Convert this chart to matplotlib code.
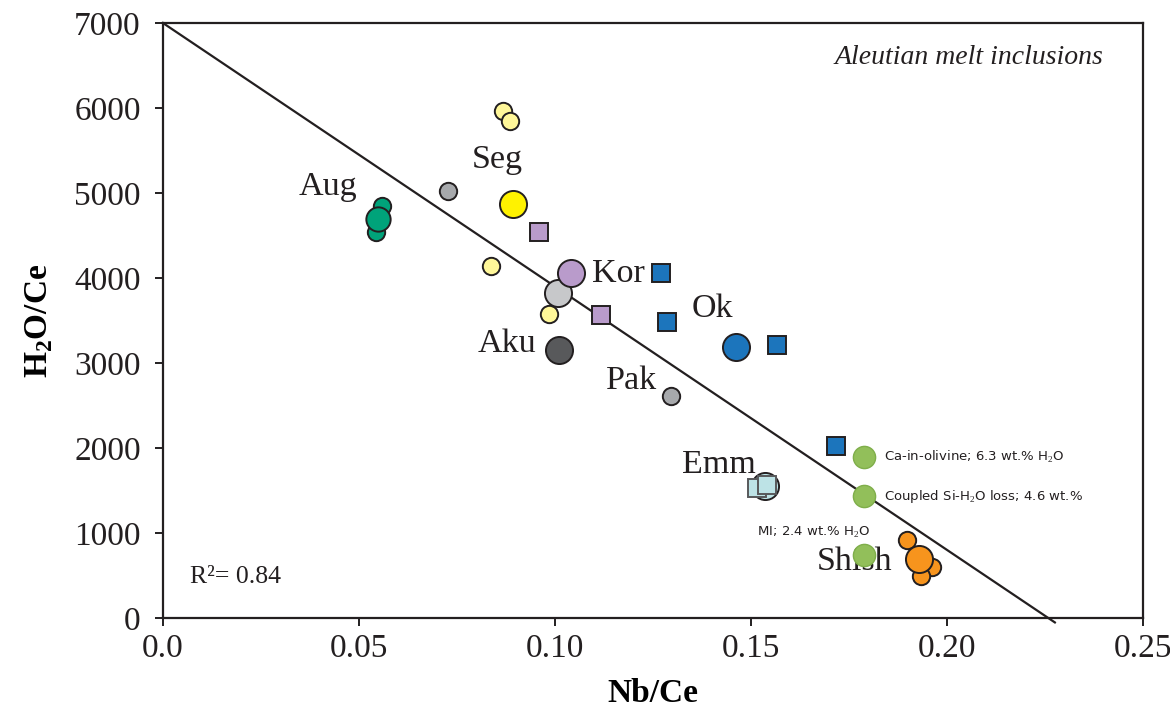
import matplotlib.pyplot as plt
import numpy as np

plt.rcParams['font.family'] = ['Liberation Serif', 'DejaVu Serif']
plt.rcParams['mathtext.fontset'] = 'custom'
plt.rcParams['mathtext.rm'] = 'Liberation Serif'
plt.rcParams['mathtext.bf'] = 'Liberation Serif:bold'

# fit line: H2O/Ce = a + b * Nb/Ce
fit_x = [0.0, 0.2275]
fit_intercept = 7000
fit_slope = -31000

# small circles (x, y) per group
light_yellow_x = [0.0867, 0.0885, 0.0837, 0.0985]
light_yellow_y = [5962, 5845, 4140, 3575]
grey_small_x = [0.0727, 0.1296]
grey_small_y = [5020, 2610]
aug_x = [0.0559, 0.0543]
aug_y = [4845, 4540]
orange_small_x = [0.1898, 0.1962, 0.1934]
orange_small_y = [920, 600, 495]
green_x = [0.1788, 0.1788, 0.1788]
green_y = [1895, 1435, 740]

# large circles (group means)
big_names = ['Aug', 'Seg', 'Kor_grey', 'Kor', 'Aku', 'Ok', 'Emm', 'Shish']
big_x = [0.0548, 0.0893, 0.1008, 0.1041, 0.1010, 0.1462, 0.1536, 0.1929]
big_y = [4690, 4870, 3820, 4060, 3150, 3185, 1550, 695]
big_colors = ['#00A37A', '#FFF200', '#C7C8CA', '#B99BCB', '#58595B',
              '#1C75BC', '#BDE3E6', '#F7941D']

# squares
purple_sq_x = [0.0959, 0.1117]
purple_sq_y = [4540, 3565]
blue_sq_x = [0.1270, 0.1286, 0.1566, 0.1717]
blue_sq_y = [4060, 3480, 3210, 2020]
emm_sq_x = [0.1515, 0.1541]
emm_sq_y = [1535, 1565]

edge = '#231F20'

fig = plt.figure(figsize=(11.7, 7.15), dpi=100)
ax = fig.add_axes([0.1393, 0.1357, 0.8377, 0.8321])

xs = np.array(fit_x)
ax.plot(xs, fit_intercept + fit_slope * xs, color='#231F20', lw=1.6, zorder=2, clip_on=False)

ms_s = 12.5
ms_l = 19.5
ms_q = 13

def circ(x, y, c, ms, z=3):
    ax.plot(x, y, 'o', ms=ms, mfc=c, mec=edge, mew=1.4, ls='none', zorder=z)

circ(light_yellow_x, light_yellow_y, '#FFF799', ms_s)
circ(grey_small_x, grey_small_y, '#A7A9AC', ms_s)
circ(aug_x, aug_y, '#00A37A', ms_s)
for n, x, y, c in zip(big_names, big_x, big_y, big_colors):
    circ([x], [y], c, ms_l if n != 'Aug' else 17.5, z=4)
circ(orange_small_x, orange_small_y, '#F7941D', ms_s, z=3.5)
ax.plot(purple_sq_x, purple_sq_y, 's', ms=ms_q, mfc='#B99BCB', mec=edge, mew=1.4, ls='none', zorder=4)
ax.plot(blue_sq_x, blue_sq_y, 's', ms=ms_q, mfc='#1C75BC', mec=edge, mew=1.4, ls='none', zorder=4)
ax.plot(emm_sq_x, emm_sq_y, 's', ms=ms_q, mfc='#BDE3E6', mec='#58595B', mew=1.4, ls='none', zorder=5)

# group labels
lab = dict(fontsize=24.5, color='#231F20', ha='center', va='center', zorder=4.5)
ax.text(0.0421, 5069, 'Aug', **lab)
ax.text(0.0852, 5386, 'Seg', **lab)
ax.text(0.1161, 4045, 'Kor', **lab)
ax.text(0.0878, 3222, 'Aku', **lab)
ax.text(0.1401, 3634, 'Ok', **lab)
ax.text(0.1196, 2787, 'Pak', **lab)
ax.text(0.1418, 1805, 'Emm', **lab)
ax.text(0.1765, 659, 'Shish', **lab)

ax.plot(green_x, green_y, 'o', ms=16, mfc='#92BF5A', mec='#7FAE4A', mew=1.0, ls='none', zorder=6)

sans = dict(family=['DejaVu Sans'], fontsize=9.5, color='#231F20', va='center')
ax.text(0.1839, 1895, 'Ca-in-olivine; 6.3 wt.% H$_2$O', **sans)
ax.text(0.1839, 1435, 'Coupled Si-H$_2$O loss; 4.6 wt.%', **sans)
ax.text(0.1515, 1010, 'MI; 2.4 wt.% H$_2$O', **sans)

ax.text(0.2398, 6600, 'Aleutian melt inclusions', fontsize=20, style='italic',
        ha='right', va='center', color='#231F20')
ax.text(0.0069, 480, 'R\u00b2= 0.84', fontsize=18.5, ha='left', va='center', color='#231F20')

ax.set_xlim(0, 0.25)
ax.set_ylim(0, 7000)
ax.set_xticks([0.0, 0.05, 0.10, 0.15, 0.20, 0.25])
ax.set_xticklabels(['0.0', '0.05', '0.10', '0.15', '0.20', '0.25'])
ax.set_yticks(range(0, 7001, 1000))
ax.tick_params(labelsize=24, direction='out', length=6, width=1.4, colors='#231F20')
ax.tick_params(axis='y', pad=10)
ax.tick_params(axis='x', pad=5)
for s in ax.spines.values():
    s.set_linewidth(1.6)
    s.set_color('#231F20')
ax.set_xlabel('Nb/Ce', fontsize=24, fontweight='bold', labelpad=10)
ax.set_ylabel('H$_\\mathbf{2}$O/Ce', fontsize=24, fontweight='bold', labelpad=14)

fig.savefig('out.png', dpi=100)
